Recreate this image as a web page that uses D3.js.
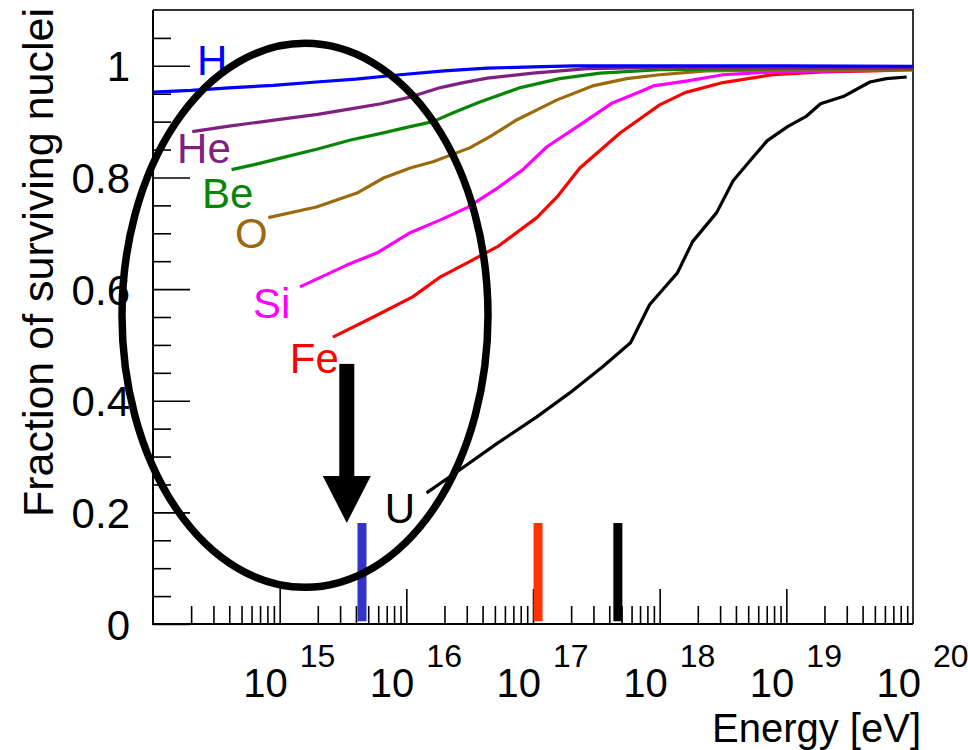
<!DOCTYPE html>
<html><head><meta charset="utf-8">
<script src="https://cdn.jsdelivr.net/npm/d3@7"></script>
<style>
html,body{margin:0;padding:0;background:#fff;}
svg{display:block;font-family:"Liberation Sans",Arial,Helvetica,sans-serif;}
</style>
</head><body>
<svg id="c" width="968" height="750"></svg>
<script>
// ---------------- data ----------------
const energyDomain = [1e14, 1e20];
const fractionDomain = [0, 1.1];

const majorExponents = [15, 16, 17, 18, 19, 20];
const yMajorTicks = [0, 0.2, 0.4, 0.6, 0.8, 1];
const yTickLabels = ["0", "0.2", "0.4", "0.6", "0.8", "1"];

const seriesNames = ["U", "Fe", "Si", "O", "Be", "He", "H"];
const seriesColors = ["#000000", "#ff0000", "#ff00ff", "#9c6a0e", "#078507", "#7e2180", "#0000ff"];

const H_logE = [14.00, 14.30, 14.63, 14.95, 15.29, 15.60, 15.95, 16.30, 16.64, 17.00, 17.32, 18.00, 19.00, 20.00];
const H_frac = [0.953, 0.956, 0.961, 0.965, 0.971, 0.976, 0.984, 0.991, 0.996, 0.998, 1.000, 1.000, 1.000, 0.999];

const He_logE = [14.31, 14.60, 15.03, 15.30, 15.56, 15.80, 16.03, 16.27, 16.45, 16.64, 17.00, 17.43, 18.00, 19.00, 20.00];
const He_frac = [0.882, 0.892, 0.905, 0.913, 0.923, 0.932, 0.944, 0.961, 0.970, 0.978, 0.987, 0.995, 0.997, 0.997, 0.996];

const Be_logE = [14.62, 14.80, 15.03, 15.30, 15.56, 15.80, 16.03, 16.21, 16.37, 16.58, 16.90, 17.21, 17.53, 18.00, 19.00, 20.00];
const Be_frac = [0.814, 0.823, 0.836, 0.851, 0.867, 0.879, 0.891, 0.900, 0.916, 0.935, 0.961, 0.977, 0.987, 0.993, 0.995, 0.995];

const O_logE = [14.91, 15.29, 15.61, 15.82, 16.03, 16.21, 16.50, 16.66, 16.87, 17.19, 17.47, 17.74, 18.00, 18.37, 19.00, 20.00];
const O_frac = [0.728, 0.747, 0.772, 0.799, 0.817, 0.828, 0.853, 0.873, 0.903, 0.939, 0.964, 0.977, 0.984, 0.991, 0.993, 0.993];

const Si_logE = [15.16, 15.53, 15.77, 16.03, 16.27, 16.48, 16.72, 16.92, 17.11, 17.35, 17.63, 17.84, 17.95, 18.22, 18.50, 18.89, 19.42, 20.00];
const Si_frac = [0.604, 0.643, 0.665, 0.701, 0.724, 0.746, 0.781, 0.814, 0.855, 0.891, 0.934, 0.953, 0.964, 0.973, 0.984, 0.989, 0.991, 0.993];

const Fe_logE = [15.42, 15.74, 16.05, 16.27, 16.48, 16.72, 17.03, 17.19, 17.37, 17.69, 18.00, 18.20, 18.50, 18.89, 19.29, 19.68, 20.00];
const Fe_frac = [0.514, 0.550, 0.586, 0.622, 0.647, 0.676, 0.728, 0.765, 0.817, 0.880, 0.930, 0.952, 0.970, 0.984, 0.989, 0.991, 0.993];

const U_logE = [16.16, 16.42, 16.72, 17.03, 17.29, 17.55, 17.77, 17.92, 18.14, 18.26, 18.45, 18.58, 18.74, 18.85, 19.01, 19.16, 19.27, 19.46, 19.66, 19.79, 19.95];
const U_frac = [0.235, 0.276, 0.324, 0.371, 0.414, 0.461, 0.504, 0.572, 0.629, 0.685, 0.737, 0.794, 0.837, 0.866, 0.891, 0.910, 0.932, 0.946, 0.971, 0.977, 0.980];

// label anchor positions (log10 E, fraction) for the nucleus names
const labelLogE = [15.83, 15.08, 14.79, 14.647, 14.387, 14.19, 14.347];
const labelFrac = [0.181, 0.450, 0.548, 0.674, 0.746, 0.826, 0.984];

// knee markers
const kneeLogE = [15.65, 17.04, 17.67];
const kneeColors = ["#3333cc", "#ff3300", "#000000"];
const kneeFrac = [0.005, 0.181];

// annotation: ellipse centre and arrow (log10 E, fraction)
const ellipseCentre = [15.2, 0.553];
const arrowLogE = 15.53;
const arrowFrac = [0.466, 0.181];

// ---------------- drawing ----------------
const seriesLogE = {U: U_logE, Fe: Fe_logE, Si: Si_logE, O: O_logE, Be: Be_logE, He: He_logE, H: H_logE};
const seriesFrac = {U: U_frac, Fe: Fe_frac, Si: Si_frac, O: O_frac, Be: Be_frac, He: He_frac, H: H_frac};

const L = 153, R = 913, T = 10, B = 624;
const svg = d3.select("#c");
const x = d3.scaleLog().domain(energyDomain).range([L, R]);
const y = d3.scaleLinear().domain(fractionDomain).range([B, T]);
const E = e => Math.pow(10, e);

// frame top/right
svg.append("path")
  .attr("d", `M${L},${T}H${R}V${B}`)
  .attr("fill", "none").attr("stroke", "#333").attr("stroke-width", 2);

// x ticks
const xMinor = [];
for (let n = 14; n < 20; n++) for (let k = 2; k <= 9; k++) xMinor.push(k * E(n));
const xMajor = majorExponents.filter(e => e < 20).map(E);

const gxMinor = svg.append("g").attr("transform", `translate(0,${B})`)
  .call(d3.axisBottom(x).tickValues(xMinor).tickSizeInner(-18).tickSizeOuter(0).tickFormat(""));
const gxMajor = svg.append("g").attr("transform", `translate(0,${B})`)
  .call(d3.axisBottom(x).tickValues(xMajor).tickSizeInner(-35).tickSizeOuter(0).tickFormat(""));
[gxMinor, gxMajor].forEach(g => {
  g.select(".domain").remove();
  g.selectAll("line").attr("stroke", "#000").attr("stroke-width", 1.6);
});

// y ticks
const yMinor = d3.range(1, 22).map(i => i * 0.05).filter(v => Math.abs(v / 0.2 - Math.round(v / 0.2)) > 1e-6);
const gyMinor = svg.append("g").attr("transform", `translate(${L},0)`)
  .call(d3.axisLeft(y).tickValues(yMinor).tickSizeInner(-18).tickSizeOuter(0).tickFormat(""));
const gyMajor = svg.append("g").attr("transform", `translate(${L},0)`)
  .call(d3.axisLeft(y).tickValues(yMajorTicks).tickSizeInner(-37).tickSizeOuter(0).tickPadding(23)
    .tickFormat((d, i) => yTickLabels[i]));
[gyMinor, gyMajor].forEach(g => {
  g.select(".domain").remove();
  g.selectAll("line").attr("stroke", "#000").attr("stroke-width", 1.6);
});
gyMajor.selectAll("text").attr("font-size", 42).attr("fill", "#000")
  .attr("font-family", '"Liberation Sans",Arial,sans-serif').attr("dy", "0.36em");

// axis lines left/bottom
svg.append("path").attr("d", `M${L},${T}V${B}H${R}`)
  .attr("fill", "none").attr("stroke", "#000").attr("stroke-width", 2);

// x tick labels 10^n
const xl = svg.append("g");
majorExponents.forEach(n => {
  const px = x(E(n));
  xl.append("text").attr("x", px + 8).attr("y", 697).attr("text-anchor", "end")
    .attr("font-size", 40).text("10");
  xl.append("text").attr("x", px + 20).attr("y", 667).attr("text-anchor", "start")
    .attr("font-size", 32).text(String(n));
});

// axis titles
svg.append("text").attr("x", 921).attr("y", 742).attr("text-anchor", "end")
  .attr("font-size", 40).text("Energy [eV]");
svg.append("text").attr("transform", "translate(53,8) rotate(-90)")
  .attr("text-anchor", "end").attr("font-size", 43).text("Fraction of surviving nuclei");

// knee bars
svg.append("g").selectAll("line").data(kneeLogE).join("line")
  .attr("x1", d => x(E(d))).attr("x2", d => x(E(d)))
  .attr("y1", y(kneeFrac[0])).attr("y2", y(kneeFrac[1]))
  .attr("stroke", (d, i) => kneeColors[i]).attr("stroke-width", 9);

// curves
const line = d3.line().x(d => x(E(d[0]))).y(d => y(d[1]));
seriesNames.forEach((name, i) => {
  const pts = seriesLogE[name].map((e, j) => [e, seriesFrac[name][j]]);
  svg.append("path").datum(pts).attr("d", line)
    .attr("fill", "none").attr("stroke", seriesColors[i]).attr("stroke-width", 3.2)
    .attr("stroke-linejoin", "round");
  svg.append("text").attr("x", x(E(labelLogE[i]))).attr("y", y(labelFrac[i]))
    .attr("font-size", 42).attr("fill", seriesColors[i]).text(name);
});

// ellipse annotation
svg.append("ellipse")
  .attr("cx", x(E(ellipseCentre[0]))).attr("cy", y(ellipseCentre[1]))
  .attr("rx", 183).attr("ry", 272)
  .attr("fill", "none").attr("stroke", "#000").attr("stroke-width", 7.5);

// arrow
const ax = x(E(arrowLogE)), ay0 = y(arrowFrac[0]), ay1 = y(arrowFrac[1]);
svg.append("rect").attr("x", ax - 7.5).attr("y", ay0).attr("width", 15).attr("height", (ay1 - 47) - ay0 + 1)
  .attr("fill", "#000");
svg.append("path")
  .attr("d", `M${ax - 24},${ay1 - 47}L${ax + 24},${ay1 - 47}L${ax},${ay1}Z`)
  .attr("fill", "#000");
</script>
</body></html>
